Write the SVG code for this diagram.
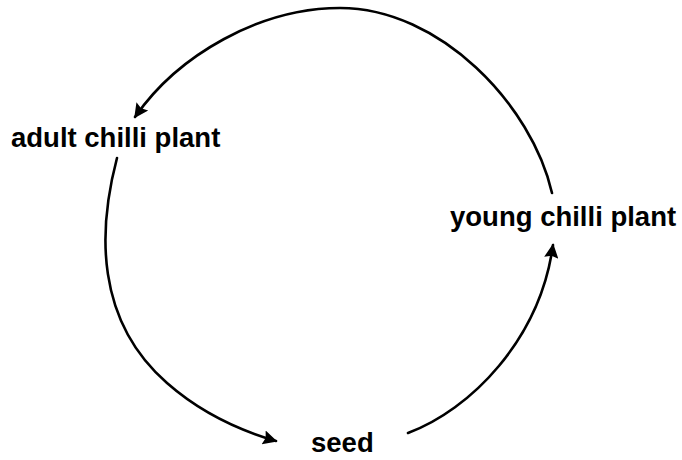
<svg xmlns="http://www.w3.org/2000/svg" width="682" height="460" viewBox="0 0 682 460">
<style>
.lbl{font-family:"Liberation Sans",Arial,sans-serif;font-weight:bold;font-size:27.5px;fill:#000}
.arc{fill:none;stroke:#000;stroke-width:2.6;stroke-linecap:round}
</style>
<defs>
<marker id="ah" viewBox="0 0 10 10" refX="9" refY="5" markerWidth="6.5" markerHeight="5.5" markerUnits="strokeWidth" orient="auto">
<path d="M0,0 L10,5 L0,10 L1.5,5 Z" fill="#000"/>
</marker>
</defs>
<rect width="682" height="460" fill="#fff"/>
<g id="connectors">
<path class="arc" marker-end="url(#ah)" d="M552,193 C532,105 440,8 340,8 C260,8 178,55 135,117"/>
<path class="arc" marker-end="url(#ah)" d="M117,158 C98,230 95,320 167,383 C200,412 238,430 276,441"/>
<path class="arc" marker-end="url(#ah)" d="M408,433 C470,410 540,340 553,245"/>
</g>
<g id="adult"><text class="lbl" x="11" y="147">adult chilli plant</text></g>
<g id="young"><text class="lbl" x="450" y="226">young chilli plant</text></g>
<g id="seed"><text class="lbl" x="311" y="452">seed</text></g>
</svg>
